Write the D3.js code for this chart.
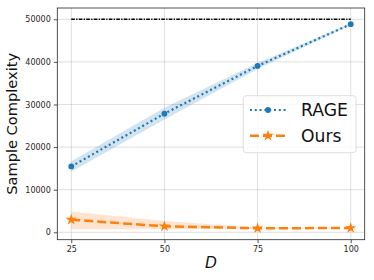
<!DOCTYPE html>
<html>
<head>
<meta charset="utf-8">
<script src="https://cdn.jsdelivr.net/npm/d3@7"></script>
<style>
  body { margin: 0; background: #fff; }
  svg { display: block; font-family: "DejaVu Sans", sans-serif; }
</style>
</head>
<body>
<svg></svg>
<script>
// data
const dims = [25, 50, 75, 100]
const rageMean = [15450, 27850, 39050, 48850]
const rageLow = [14200, 26450, 38350, 48650]
const rageHigh = [16700, 29250, 39750, 49050]
const oursMean = [2960, 1400, 950, 1000]
const oursLow = [700, 720, 800, 930]
const oursHigh = [4900, 2650, 1100, 1070]
const bound = [50000, 50000, 50000, 50000]
const xTicks = [25, 50, 75, 100]
const yTicks = [0, 10000, 20000, 30000, 40000, 50000]

const width = 374, height = 280
const margin = { top: 8, right: 9.3, bottom: 40.3, left: 57.3 }

const svg = d3.select('svg').attr('width', width).attr('height', height)

const x = d3.scaleLinear().domain([21.25, 103.75]).range([margin.left, width - margin.right])
const y = d3.scaleLinear().domain([-1740, 52650]).range([height - margin.bottom, margin.top])

// grid
const grid = svg.append('g').attr('stroke', '#b0b0b0').attr('stroke-opacity', 0.5).attr('stroke-width', 0.8)
grid.selectAll('.gx').data(xTicks).enter().append('line')
    .attr('x1', d => x(d)).attr('x2', d => x(d))
    .attr('y1', margin.top).attr('y2', height - margin.bottom)
grid.selectAll('.gy').data(yTicks).enter().append('line')
    .attr('x1', margin.left).attr('x2', width - margin.right)
    .attr('y1', d => y(d)).attr('y2', d => y(d))

// bands
function band(lo, hi, color) {
    const area = d3.area()
        .x((d, i) => x(dims[i]))
        .y0((d, i) => y(lo[i]))
        .y1((d, i) => y(hi[i]))
    svg.append('path').datum(dims).attr('d', area)
        .attr('fill', color).attr('fill-opacity', 0.2)
}
band(rageLow, rageHigh, '#1f77b4')
band(oursLow, oursHigh, '#ff7f0e')

const line = d3.line().x((d, i) => x(dims[i])).y(d => y(d))

// upper bound line
svg.append('path').datum(bound).attr('d', line)
    .attr('fill', 'none').attr('stroke', '#000').attr('stroke-width', 1.5)
    .attr('stroke-dasharray', '3.6,1.3,1.3,1.3')

// RAGE
svg.append('path').datum(rageMean).attr('d', line)
    .attr('fill', 'none').attr('stroke', '#1f77b4').attr('stroke-width', 2.2)
    .attr('stroke-dasharray', '2,2.8')
svg.selectAll('.rm').data(rageMean).enter().append('path')
    .attr('transform', (d, i) => `translate(${x(dims[i])},${y(d)})`)
    .attr('d', d3.symbol(d3.symbolCircle, 26))
    .attr('fill', '#1f77b4')

// Ours
svg.append('path').datum(oursMean).attr('d', line)
    .attr('fill', 'none').attr('stroke', '#ff7f0e').attr('stroke-width', 2.5)
    .attr('stroke-dasharray', '9,4')
svg.selectAll('.om').data(oursMean).enter().append('path')
    .attr('transform', (d, i) => `translate(${x(dims[i])},${y(d)})`)
    .attr('d', d3.symbol(d3.symbolStar, 40))
    .attr('fill', '#ff7f0e')

// axes
const xAxis = svg.append('g')
    .attr('transform', `translate(0,${height - margin.bottom})`)
    .call(d3.axisBottom(x).tickValues(xTicks).tickSize(3.5).tickPadding(3.5))
const yAxis = svg.append('g')
    .attr('transform', `translate(${margin.left},0)`)
    .call(d3.axisLeft(y).tickValues(yTicks).tickFormat(d3.format('d')).tickSize(3.5).tickPadding(3))
;[xAxis, yAxis].forEach(a => {
    a.select('.domain').remove()
    a.selectAll('text').attr('font-size', 8).attr('fill', '#262626').attr('font-family', '"DejaVu Sans", sans-serif')
    a.selectAll('line').attr('stroke', '#262626').attr('stroke-width', 0.8)
})

// frame
svg.append('rect')
    .attr('x', margin.left).attr('y', margin.top)
    .attr('width', width - margin.left - margin.right)
    .attr('height', height - margin.top - margin.bottom)
    .attr('fill', 'none').attr('stroke', '#262626').attr('stroke-width', 0.8)

// labels
svg.append('text')
    .attr('transform', `translate(17,${(margin.top + height - margin.bottom) / 2}) rotate(-90)`)
    .attr('text-anchor', 'middle').attr('font-size', 14.6).attr('fill', '#111')
    .text('Sample Complexity')
svg.append('text')
    .attr('x', (margin.left + width - margin.right) / 2).attr('y', 267.5)
    .attr('text-anchor', 'middle').attr('font-size', 15.5).attr('font-style', 'italic').attr('fill', '#111')
    .text('D')

// legend
const legend = svg.append('g')
legend.append('rect')
    .attr('x', 243.3).attr('y', 95.7).attr('width', 112.7).attr('height', 57)
    .attr('rx', 3).attr('fill', '#fff').attr('fill-opacity', 0.8)
    .attr('stroke', '#d6d6d6').attr('stroke-width', 0.8)
const items = [
    { name: 'RAGE', color: '#1f77b4', dash: '2,2.8', w: 2.2, sym: d3.symbolCircle, size: 26 },
    { name: 'Ours', color: '#ff7f0e', dash: '9,4', w: 2.5, sym: d3.symbolStar, size: 40 }
]
items.forEach((it, i) => {
    const cy = 110 + i * 25.7
    legend.append('line')
        .attr('x1', 250).attr('x2', 285.7).attr('y1', cy).attr('y2', cy)
        .attr('stroke', it.color).attr('stroke-width', it.w).attr('stroke-dasharray', it.dash)
    legend.append('path')
        .attr('transform', `translate(268,${cy})`)
        .attr('d', d3.symbol(it.sym, it.size)).attr('fill', it.color)
    legend.append('text')
        .attr('x', 301).attr('y', cy + 6.3)
        .attr('font-size', 17.2).attr('fill', '#111')
        .text(it.name)
})
</script>
</body>
</html>
